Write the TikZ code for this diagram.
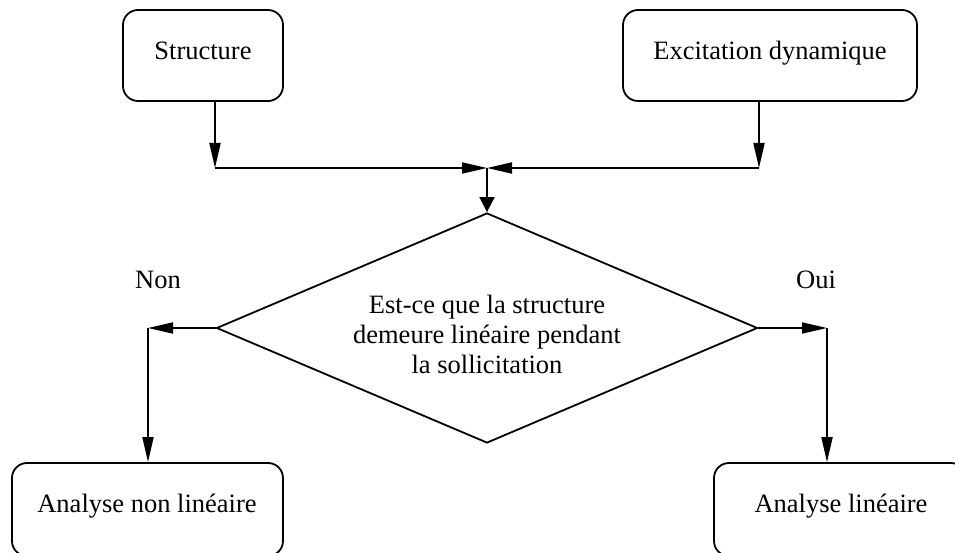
\documentclass[tikz,border=0pt]{standalone}
\usepackage{fontspec}
\setmainfont{Liberation Serif}
\usetikzlibrary{arrows.meta,shapes.geometric}
\begin{document}
\begin{tikzpicture}[x=1pt,y=-1pt,
  box/.style={draw, rounded corners=15pt, line width=1.8pt, inner sep=0pt},
  lbl/.style={anchor=base, inner sep=0pt, font=\fontsize{26.5}{30}\selectfont},
  conn/.style={line width=1.8pt, -{Triangle[length=25pt,width=11pt]}},
  connshort/.style={line width=1.8pt, -{Triangle[length=15pt,width=15pt]}}]
\useasboundingbox (0,0) rectangle (955,553);
\clip (0,0) rectangle (955,553);
% top boxes
\node[box, minimum width=160pt, minimum height=91pt] (s) at (203,55.5) {};
\node[lbl] (st) at (203,60) {Structure};
\node[box, minimum width=294pt, minimum height=91pt] (e) at (770,55.5) {};
\node[lbl] (et) at (770,60) {Excitation dynamique};
% junction
\coordinate (sx) at (215,168);
\coordinate (ex) at (759,168);
\coordinate (j) at (487,168);
\draw[conn] (s.south -| sx) -- (sx);
\draw[conn] (e.south -| ex) -- (ex);
\draw[conn] (sx) -- (j);
\draw[conn] (ex) -- (j);
% diamond
\node[draw, diamond, minimum width=541pt, minimum height=230pt, inner sep=0pt, line width=1.8pt] (d) at (487,328) {};
\node[lbl] (d1) at (487,313) {Est-ce que la structure};
\node[lbl] (d2) at (487,343) {demeure linéaire pendant};
\node[lbl] (d3) at (487,373) {la sollicitation};
\draw[connshort] (j) -- (d.north);
% labels
\node[lbl] (non) at (158,288) {Non};
\node[lbl] (oui) at (816,288) {Oui};
% bottom boxes
\node[box, minimum width=271pt, minimum height=93pt] (a) at (147.5,509.5) {};
\node[lbl] (at) at (147,512) {Analyse non linéaire};
\node[box, minimum width=252pt, minimum height=93pt] (b) at (840,509.5) {};
\node[lbl] (bt) at (841,512) {Analyse linéaire};
% branches
\coordinate (nl) at (148,328);
\coordinate (nr) at (827,328);
\draw[conn] (d.west) -- (nl);
\draw[conn] (nl) -- (nl |- a.north);
\draw[conn] (d.east) -- (nr);
\draw[conn] (nr) -- (nr |- b.north);
\end{tikzpicture}
\end{document}
